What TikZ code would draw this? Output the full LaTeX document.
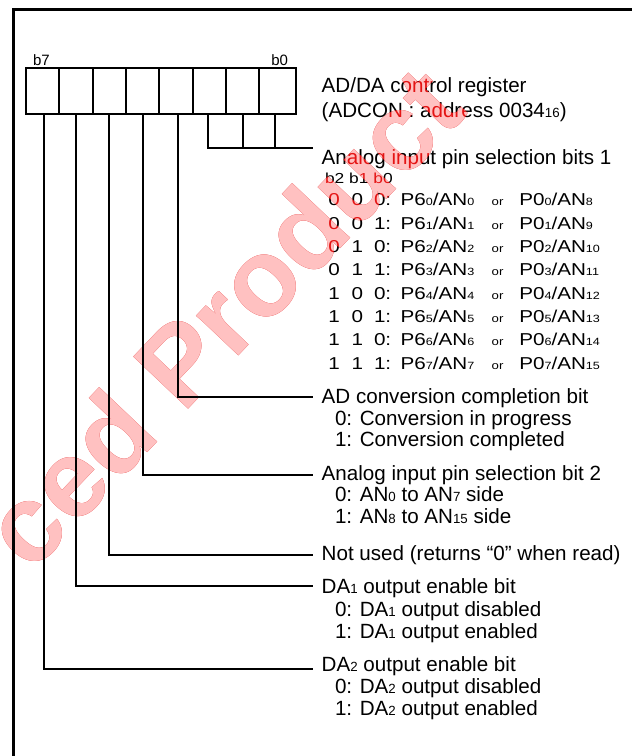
\documentclass[tikz,border=0pt]{standalone}
\usepackage{fontspec}
\setmainfont{Liberation Sans}
\newfontfamily\tblfont[FakeStretch=1.2]{Liberation Sans}
\newcommand\msub[1]{{\fontsize{13.3}{14}\selectfont #1}}
\newcommand\tsub[1]{{\fontsize{10.5}{11}\selectfont #1}}
\definecolor{wmpink}{RGB}{247,187,187}
\definecolor{wmred}{RGB}{228,20,20}
\begin{document}
\begin{tikzpicture}[x=1pt,y=-1pt,
  mainlbl/.style={anchor=base west,inner sep=0pt,outer sep=0pt,font=\fontsize{20.6}{22}\selectfont},
  tbl/.style={anchor=base west,inner sep=0pt,outer sep=0pt,font=\tblfont\fontsize{17.2}{18}\selectfont},
  orlbl/.style={anchor=base west,inner sep=0pt,outer sep=0pt,font=\tblfont\fontsize{11}{12}\selectfont},
  bhdr/.style={anchor=base west,inner sep=0pt,outer sep=0pt,font=\tblfont\fontsize{14.5}{15}\selectfont},
  bitlbl/.style={inner sep=0pt,outer sep=0pt,font=\fontsize{15}{16}\selectfont},
  bitbox/.style={draw,line width=1.8pt,inner sep=0pt,outer sep=0pt,minimum height=45.7pt,minimum width=33.33pt},
  conn/.style={line width=1.8pt},
  frameline/.style={line width=3pt},
  wmark/.style={anchor=base west,inner sep=0pt,outer sep=0pt,rotate=46.5,font=\fontsize{110}{110}\selectfont\bfseries}]
\useasboundingbox (0,0) rectangle (632,756);

% watermark (under)
\coordinate (wmo) at (32,574);
\node[wmark,text=wmpink] (wm) at (wmo) {ced Product};

% register labels
\node[bitlbl,anchor=base west] (lb7) at (33,65) {b7};
\node[bitlbl,anchor=base east] (lb0) at (288,65) {b0};

% texts
\node[mainlbl] (reg1) at (321.7,92.3) {AD/DA control register};
\node[mainlbl] (reg2) at (321.7,117) {(ADCON : address 0034\msub{16})};
\node[mainlbl] (h1) at (321.7,164) {Analog input pin selection bits 1};
\node[bhdr] (bh) at (325,183.3) {b2 b1 b0};
\foreach \k/\a/\b/\c in {0/0/0/0,1/0/0/1,2/0/1/0,3/0/1/1,4/1/0/0,5/1/0/1,6/1/1/0,7/1/1/1} {
  \pgfmathsetmacro\yy{205.7+23.33*\k}
  \pgfmathtruncatemacro\mm{\k+8}
  \node[tbl] (ra\k) at (328.3,\yy) {\a};
  \node[tbl] (rb\k) at (351.7,\yy) {\b};
  \node[tbl] (rc\k) at (374,\yy) {\c:};
  \node[tbl] (rp\k) at (400.7,\yy) {P6\tsub{\k}/AN\tsub{\k}};
  \node[orlbl] (ro\k) at (491.7,\yy) {or};
  \node[tbl] (rq\k) at (519.3,\yy) {P0\tsub{\k}/AN\tsub{\mm}};
}
\node[mainlbl] (h3) at (321.7,403.3) {AD conversion completion bit};
\node[mainlbl] (h3a) at (335,425) {0: Conversion in progress};
\node[mainlbl] (h3b) at (335,446.7) {1: Conversion completed};
\node[mainlbl] (h4) at (321.7,480) {Analog input pin selection bit 2};
\node[mainlbl] (h4a) at (335,501.7) {0: AN\msub{0} to AN\msub{7} side};
\node[mainlbl] (h4b) at (335,523.3) {1: AN\msub{8} to AN\msub{15} side};
\node[mainlbl] (h5) at (321.7,560) {Not used (returns “0” when read)};
\node[mainlbl] (h6) at (321.7,593.3) {DA\msub{1} output enable bit};
\node[mainlbl] (h6a) at (335,616) {0: DA\msub{1} output disabled};
\node[mainlbl] (h6b) at (335,638.3) {1: DA\msub{1} output enabled};
\node[mainlbl] (h7) at (321.7,671.7) {DA\msub{2} output enable bit};
\node[mainlbl] (h7a) at (335,693.3) {0: DA\msub{2} output disabled};
\node[mainlbl] (h7b) at (335,715) {1: DA\msub{2} output enabled};

% watermark (over text, screen)
\begin{scope}[blend mode=screen]
\node[wmark,text=wmred] (wm2) at (wmo) {ced Product};
\end{scope}

% register boxes
\node[bitbox] (bit7) at (42.65,91.15) {};
\node[bitbox] (bit6) at (76,91.15) {};
\node[bitbox] (bit5) at (109.35,91.15) {};
\node[bitbox] (bit4) at (142.65,91.15) {};
\node[bitbox] (bit3) at (176,91.15) {};
\node[bitbox] (bit2) at (209.35,91.15) {};
\node[bitbox] (bit1) at (242.65,91.15) {};
\node[bitbox,minimum width=36.7pt] (bit0) at (277.65,91.15) {};

% connector ends
\coordinate (e1) at (312.7,148.3);
\coordinate (e3) at (313,396.7);
\coordinate (e4) at (313,475);
\coordinate (e5) at (313,555);
\coordinate (e6) at (313,585.7);
\coordinate (e7) at (313,669);

\draw[conn] ([xshift=-1pt]bit2.south) |- (e1);
\draw[conn] (bit1.south) -- (bit1.south |- e1);
\draw[conn] ([xshift=-2.6pt]bit0.south) -- ([xshift=-2.6pt]bit0.south |- e1);
\draw[conn] ([xshift=1.7pt]bit3.south) |- (e3);
\draw[conn] (bit4.south) |- (e4);
\draw[conn] (bit5.south) |- (e5);
\draw[conn] (bit6.south) |- (e6);
\draw[conn] ([xshift=1.6pt]bit7.south) |- (e7);

% frame
\coordinate (fbl) at (13,756);
\coordinate (ftl) at (13,9.7);
\coordinate (ftr) at (632,9.7);
\draw[frameline] (fbl) -- (ftl) -- (ftr);
\end{tikzpicture}
\end{document}
